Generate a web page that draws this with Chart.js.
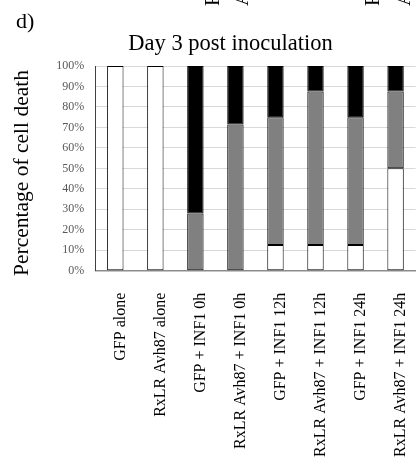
<!DOCTYPE html>
<html>
<head>
<meta charset="utf-8">
<script src="https://cdn.jsdelivr.net/npm/chart.js@4"></script>
<style>
  html, body { margin: 0; padding: 0; background: #fff; overflow: hidden; }
  #wrap { width: 419px; height: 472px; overflow: hidden; }
</style>
</head>
<body>
<div id="wrap"><canvas id="chart-death" width="430" height="472"></canvas></div>
<script>
// Datos (porcentajes apilados)
const categories = [
  'GFP alone',
  'RxLR Avh87 alone',
  'GFP + INF1 0h',
  'RxLR Avh87 + INF1 0h',
  'GFP + INF1 12h',
  'RxLR Avh87 + INF1 12h',
  'GFP + INF1 24h',
  'RxLR Avh87 + INF1 24h'
];
const whiteVals = [100, 100, 0, 0, 12.5, 12.5, 12.5, 50];
const grayVals = [0, 0, 28, 71.4, 62.5, 75, 62.5, 37.5];
const blackVals = [0, 0, 72, 28.6, 25, 12.5, 25, 12.5];
const yTicks = [0, 10, 20, 30, 40, 50, 60, 70, 80, 90, 100];

const panelLabel = 'd)';
const chartTitle = 'Day 3 post inoculation';
const yLabel = 'Percentage of cell death';
// restos de etiquetas del panel superior (recortadas)
const topStubs = ['RxLR', 'Avh87', 'RxLR', 'Avh87'];

const SERIF = '"Liberation Serif", "Times New Roman", serif';

const extraText = {
  id: 'extraText',
  afterDraw(chart) {
    const ctx = chart.ctx;
    ctx.save();
    ctx.fillStyle = '#000';
    ctx.textBaseline = 'alphabetic';

    ctx.font = '22px ' + SERIF;
    ctx.textAlign = 'left';
    ctx.fillText(panelLabel, 16, 28);

    ctx.font = '22.5px ' + SERIF;
    ctx.textAlign = 'center';
    ctx.fillText(chartTitle, 230.5, 50);

    ctx.save();
    ctx.font = '21.5px ' + SERIF;
    ctx.translate(28, 173);
    ctx.rotate(-Math.PI / 2);
    ctx.fillText(yLabel, 0, 0);
    ctx.restore();

    const stubX = [219, 248, 379, 410];
    ctx.font = '21px ' + SERIF;
    ctx.textAlign = 'left';
    topStubs.forEach((t, i) => {
      ctx.save();
      ctx.translate(stubX[i], 6);
      ctx.rotate(-Math.PI / 2);
      ctx.fillText(t, 0, 0);
      ctx.restore();
    });
    ctx.restore();
  }
};

const ctx = document.getElementById('chart-death');

new Chart(ctx, {
  type: 'bar',
  data: {
    labels: categories,
    datasets: [
      { label: 'white', data: whiteVals, backgroundColor: '#ffffff' },
      { label: 'gray', data: grayVals, backgroundColor: '#808080' },
      { label: 'black', data: blackVals, backgroundColor: '#000000' }
    ].map(d => Object.assign(d, {
      borderColor: '#000000',
      borderWidth: 1,
      borderSkipped: false,
      barPercentage: 0.41,
      categoryPercentage: 1
    }))
  },
  options: {
    responsive: false,
    animation: false,
    devicePixelRatio: 1,
    layout: { padding: { top: 66, right: 7, left: 0, bottom: 0 } },
    plugins: {
      legend: { display: false },
      tooltip: { enabled: false }
    },
    scales: {
      x: {
        stacked: true,
        grid: { display: false, drawTicks: false },
        border: { display: true, color: '#8c8c8c', width: 1.5 },
        ticks: {
          autoSkip: false,
          minRotation: 90,
          maxRotation: 90,
          padding: 22,
          labelOffset: 5,
          color: '#000',
          font: { family: SERIF, size: 16, lineHeight: 0.75 }
        },
        afterFit(scale) { scale.height = 201.3; }
      },
      y: {
        stacked: true,
        min: 0,
        max: 100,
        afterBuildTicks(scale) { scale.ticks = yTicks.map(v => ({ value: v })); },
        grid: { color: '#d9d9d9', drawTicks: false },
        border: { display: true, color: '#404040', width: 1 },
        ticks: {
          padding: 11,
          color: '#595959',
          font: { family: SERIF, size: 12 },
          callback: v => v + '%'
        },
        afterFit(scale) { scale.width = 95.3; }
      }
    }
  },
  plugins: [extraText]
});
</script>
</body>
</html>
